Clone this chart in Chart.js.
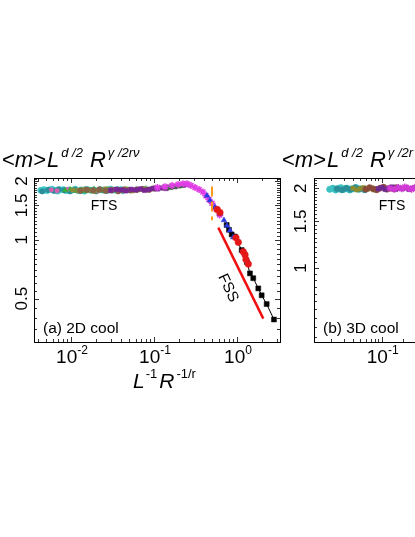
<!DOCTYPE html>
<html>
<head>
<meta charset="utf-8">
<script src="https://cdn.jsdelivr.net/npm/chart.js@4"></script>
<style>
  html, body { margin: 0; padding: 0; background: #fff; overflow: hidden; }
  #wrap { position: relative; width: 415px; height: 537px; overflow: hidden; }
  #wrap canvas { position: absolute; left: 0; top: 0; }
</style>
</head>
<body>
<div id="wrap">
  <canvas id="panelA" width="415" height="537"></canvas>
  <canvas id="panelB" width="620" height="537"></canvas>
</div>
<script>
// ---- panel (a) 2D cool : collapse data ----
const cyanX  = [0.0043,0.0047,0.0051,0.0055,0.0059,0.0064,0.0069,0.0075,0.0081,0.0088,0.0095,0.0103,0.0112,0.0122,0.0133,0.0145,0.0158,0.0172,0.0188,0.0205,0.0224,0.0245,0.027,0.03,0.034,0.04];
const cyanY  = [1.79,1.81,1.78,1.80,1.82,1.79,1.77,1.80,1.81,1.78,1.80,1.79,1.82,1.78,1.80,1.77,1.81,1.79,1.80,1.78,1.81,1.79,1.80,1.82,1.79,1.81];
const tealX  = [0.0045,0.0053,0.0062,0.0071,0.0083,0.0097,0.0113,0.013,0.015,0.0175,0.02,0.023,0.027,0.031,0.036,0.042,0.05];
const tealY  = [1.77,1.80,1.78,1.81,1.79,1.77,1.80,1.78,1.81,1.79,1.77,1.80,1.78,1.79,1.81,1.78,1.80];
const pinkX  = [0.0058,0.0068,0.009,0.012,0.016,0.021,0.03,0.045];
const pinkY  = [1.80,1.78,1.81,1.79,1.80,1.78,1.81,1.79];
const greenX = [0.0085,0.0098,0.0112,0.0128,0.0146,0.0166,0.019,0.0216,0.0246,0.028,0.032,0.0365,0.0415,0.047,0.054,0.061,0.07,0.08,0.091,0.104];
const greenY = [1.79,1.81,1.78,1.80,1.77,1.80,1.82,1.79,1.78,1.81,1.79,1.80,1.78,1.81,1.79,1.82,1.80,1.83,1.81,1.84];
const oliveX = [0.0105,0.0122,0.0142,0.0165,0.0192,0.0223,0.026,0.0302,0.035,0.041,0.047,0.055,0.064,0.074,0.086,0.1];
const oliveY = [1.80,1.78,1.81,1.79,1.77,1.80,1.82,1.78,1.80,1.79,1.81,1.78,1.80,1.82,1.81,1.83];
const brownX = [0.013,0.0155,0.0185,0.022,0.026,0.031,0.037,0.044,0.052,0.062,0.073,0.087,0.1];
const brownY = [1.78,1.80,1.79,1.81,1.78,1.80,1.77,1.81,1.79,1.80,1.82,1.80,1.83];
const purpleX = [0.03,0.035,0.04,0.046,0.053,0.06,0.068,0.077,0.087,0.098,0.11,0.124,0.14,0.158,0.178,0.2,0.225,0.25];
const purpleY = [1.79,1.81,1.80,1.78,1.81,1.80,1.82,1.79,1.81,1.83,1.82,1.84,1.83,1.86,1.87,1.89,1.90,1.92];
const dkGreenX = [0.14,0.16,0.18,0.2,0.215];
const dkGreenY = [1.85,1.86,1.88,1.89,1.90];
const magentaX = [0.11,0.136,0.165,0.195,0.224,0.25,0.279,0.312,0.349,0.389,0.423,0.46,0.5,0.559,0.62];
const magentaY = [1.85,1.87,1.895,1.915,1.936,1.936,1.895,1.853,1.81,1.754,1.68,1.606,1.537,1.438,1.34];
const blueX = [0.435,0.473,0.543,0.624,0.697,0.758,0.823,0.9];
const blueY = [1.68,1.588,1.47,1.36,1.26,1.18,1.116,1.03];
const redX = [0.579,0.624,0.972,1.037,1.191,1.25,1.284,1.368];
const redY = [1.427,1.377,1.025,0.97,0.869,0.838,0.793,0.751];
const blackX = [0.751,0.80,0.863,0.94,1.139,1.32,1.434,1.571,1.806,1.984,2.28,2.79];
const blackY = [1.19,1.125,1.065,1.04,0.886,0.768,0.673,0.636,0.564,0.520,0.469,0.391];
// guide lines
const fssX = [0.596, 2.075];
const fssY = [1.154, 0.395];
const crossX = [0.5, 0.5];
const crossY = [1.874, 1.26];

// ---- panel (b) 3D cool : only the left part is visible ----
const bCyanX = [0.019,0.021,0.023,0.025,0.027,0.03,0.033,0.036,0.04,0.044,0.048];
const bCyanY = [1.98,2.00,1.97,1.99,2.01,1.98,2.00,1.97,1.99,2.01,1.98];
const bTealX = [0.024,0.028,0.032,0.037,0.043,0.05,0.058];
const bTealY = [1.99,1.97,2.00,1.98,2.01,1.99,1.97];
const bOliveX = [0.04,0.045,0.05,0.056,0.063,0.07,0.078,0.087,0.097];
const bOliveY = [2.00,1.97,1.99,2.01,1.98,2.00,1.97,1.99,2.01];
const bBrownX = [0.06,0.068,0.076,0.085,0.095,0.106,0.118,0.13,0.145,0.16];
const bBrownY = [1.98,2.01,1.99,1.97,2.00,2.02,1.98,2.00,1.99,2.01];
const bPurpleX = [0.09,0.1,0.112,0.125,0.14,0.156,0.174,0.194,0.216,0.24,0.27,0.3];
const bPurpleY = [1.99,2.01,1.98,2.00,2.02,1.98,2.00,1.99,2.01,1.98,2.00,2.01];
const bMagentaX = [0.13,0.15,0.17,0.19,0.21,0.235,0.26,0.29];
const bMagentaY = [2.00,1.98,2.01,1.99,2.02,2.00,1.98,2.01];

// ---- ticks ----
const aXMajor = [0.01, 0.1, 1];
const aXExp = ['-2', '-1', '0'];
const aYMajor = [0.5, 1, 1.5, 2];
const aYLabels = ['0.5', '1', '1.5', '2'];
const bXMajor = [0.1, 1, 10];
const bXExp = ['-1', '0', '1'];
const bYMajor = [1, 1.5, 2];
const bYLabels = ['1', '1.5', '2'];

const FONT = '"Liberation Sans", Arial, sans-serif';

function pts(xs, ys) {
  return xs.map((x, i) => ({ x: x, y: ys[i] }));
}

function scatterSet(xs, ys, color, style, r, line) {
  const star = style === 'star' || style === 'crossRot';
  return {
    data: pts(xs, ys),
    pointStyle: style,
    pointRadius: r,
    pointBackgroundColor: color,
    pointBorderColor: color,
    pointBorderWidth: star ? 1.5 : 0.5,
    borderColor: color,
    borderWidth: line ? 1 : 0,
    showLine: !!line
  };
}

function guideSet(xs, ys, color, width, dash) {
  return {
    data: pts(xs, ys),
    showLine: true,
    pointRadius: 0,
    borderColor: color,
    borderWidth: width,
    borderDash: dash || []
  };
}

// text runs with superscripts
function drawRuns(ctx, x, y, runs, align) {
  let w = 0;
  runs.forEach(r => {
    ctx.font = (r.it ? 'italic ' : '') + r.size + 'px ' + FONT;
    r.w = ctx.measureText(r.t).width;
    w += r.w + (r.gap || 0);
  });
  let cx = align === 'center' ? x - w / 2 : x;
  ctx.textAlign = 'left';
  ctx.textBaseline = 'alphabetic';
  runs.forEach(r => {
    ctx.font = (r.it ? 'italic ' : '') + r.size + 'px ' + FONT;
    ctx.fillText(r.t, cx, y + (r.dy || 0));
    cx += r.w + (r.gap || 0);
  });
}

function titleRuns(full) {
  return [
    { t: '<', size: 22 },
    { t: 'm', size: 22, it: true },
    { t: '>', size: 22, gap: 1 },
    { t: 'L', size: 22, it: true, gap: 2 },
    { t: 'd /2', size: 13, it: true, dy: -10, gap: 7 },
    { t: 'R', size: 22, it: true, gap: 2 },
    { t: full ? 'γ /2rν' : 'γ /2r', size: 13, it: true, dy: -10 }
  ];
}

// frame, inward ticks on all four sides, labels and notes
function framePlugin(cfg) {
  return {
    id: 'frame',
    afterDraw(chart) {
      const ctx = chart.ctx;
      const a = chart.chartArea;
      const xs = chart.scales.x, ys = chart.scales.y;
      ctx.save();
      ctx.strokeStyle = '#000';
      ctx.lineWidth = 1;
      ctx.strokeRect(a.left + 0.5, a.top + 0.5, a.right - a.left, a.bottom - a.top);

      ctx.lineWidth = 0.8;
      ctx.beginPath();
      // x ticks: decades and 2..9 minors
      for (let d = -4; d <= 2; d++) {
        for (let m = 1; m <= 9; m++) {
          const v = m * Math.pow(10, d);
          if (v < xs.min || v > xs.max) continue;
          const px = Math.round(xs.getPixelForValue(v)) + 0.5;
          const len = m === 1 ? 5 : 3;
          ctx.moveTo(px, a.bottom); ctx.lineTo(px, a.bottom - len);
          ctx.moveTo(px, a.top); ctx.lineTo(px, a.top + len);
        }
      }
      // y ticks every 0.05
      for (let k = 6; k <= 44; k++) {
        const v = k * 0.05;
        if (v < ys.min || v > ys.max) continue;
        const py = Math.round(ys.getPixelForValue(v)) + 0.5;
        const len = k % 10 === 0 ? 5 : 3;
        ctx.moveTo(a.left, py); ctx.lineTo(a.left + len, py);
        ctx.moveTo(a.right, py); ctx.lineTo(a.right - len, py);
      }
      ctx.stroke();

      ctx.fillStyle = '#000';
      // x tick labels 10^n
      cfg.xMajor.forEach((v, i) => {
        if (v < xs.min || v > xs.max) return;
        drawRuns(ctx, xs.getPixelForValue(v) + 1, a.bottom + 21, [
          { t: '10', size: 19 },
          { t: cfg.xExp[i], size: 12, dy: -9 }
        ], 'center');
      });
      // y tick labels, rotated
      ctx.font = '17px ' + FONT;
      cfg.yMajor.forEach((v, i) => {
        ctx.save();
        ctx.translate(cfg.yLabelX, ys.getPixelForValue(v));
        ctx.rotate(-Math.PI / 2);
        ctx.textAlign = 'center';
        ctx.textBaseline = 'middle';
        ctx.fillText(cfg.yLabels[i], 0, 0);
        ctx.restore();
      });

      // axis title on top
      drawRuns(ctx, cfg.titleX, 167, titleRuns(cfg.fullTitle), 'left');

      // FTS and panel tag
      ctx.font = '14px ' + FONT;
      ctx.textAlign = 'center';
      ctx.textBaseline = 'alphabetic';
      ctx.fillText('FTS', cfg.ftsX, 210);
      ctx.font = '15.5px ' + FONT;
      ctx.textAlign = 'left';
      ctx.fillText(cfg.tag, a.left + 9, a.bottom - 9);

      if (cfg.fss) {
        ctx.save();
        ctx.translate(228, 288);
        ctx.rotate(65 * Math.PI / 180);
        ctx.font = '15px ' + FONT;
        ctx.textAlign = 'center';
        ctx.textBaseline = 'middle';
        ctx.fillText('FSS', 0, 0);
        ctx.restore();
      }
      if (cfg.xTitle) {
        drawRuns(ctx, 133, 388, [
          { t: 'L', size: 21, it: true, gap: 1 },
          { t: '-1', size: 13, dy: -10, gap: 2 },
          { t: 'R', size: 21, it: true, gap: 2 },
          { t: '-1/r', size: 13, dy: -10 }
        ], 'left');
      }
      ctx.restore();
    }
  };
}

function makePanel(id, datasets, xr, yr, pad, cfg) {
  return new Chart(document.getElementById(id).getContext('2d'), {
    type: 'scatter',
    data: { datasets: datasets },
    options: {
      responsive: false,
      animation: false,
      devicePixelRatio: 1,
      layout: { padding: pad },
      plugins: { legend: { display: false }, tooltip: { enabled: false } },
      scales: {
        x: { type: 'logarithmic', min: xr[0], max: xr[1], display: false },
        y: { type: 'logarithmic', min: yr[0], max: yr[1], display: false }
      }
    },
    plugins: [framePlugin(cfg)]
  });
}

// first dataset is drawn on top
makePanel('panelA', [
  guideSet(crossX, crossY, '#ff9a1a', 2, [10, 5]),
  guideSet(fssX, fssY, '#f01010', 2.5),
  scatterSet(redX, redY, '#e41818', 'circle', 3.3),
  scatterSet(blueX, blueY, '#2a3ae0', 'triangle', 3.2),
  scatterSet(blackX, blackY, '#000000', 'rect', 3.5, true),
  scatterSet(magentaX, magentaY, '#e23ee6', 'star', 3.5, true),
  scatterSet(dkGreenX, dkGreenY, '#1f7a1f', 'rect', 3),
  scatterSet(purpleX, purpleY, '#7a2596', 'rect', 3.2),
  scatterSet(brownX, brownY, '#866246', 'circle', 2.8),
  scatterSet(oliveX, oliveY, '#8c8c3a', 'rect', 3),
  scatterSet(greenX, greenY, '#35b035', 'triangle', 3),
  scatterSet(pinkX, pinkY, '#d860b0', 'circle', 2.2),
  scatterSet(tealX, tealY, '#2a8f9a', 'circle', 2.8),
  scatterSet(cyanX, cyanY, '#3cc8c8', 'circle', 3)
], [0.00358, 3.3], [0.34, 2.07], { left: 34, right: 135, top: 178, bottom: 195 }, {
  xMajor: aXMajor, xExp: aXExp, yMajor: aYMajor, yLabels: aYLabels,
  yLabelX: 22, titleX: 2, fullTitle: true, ftsX: 104, tag: '(a) 2D cool',
  fss: true, xTitle: true
});

makePanel('panelB', [
  scatterSet(bMagentaX, bMagentaY, '#d23ad6', 'star', 3.5),
  scatterSet(bPurpleX, bPurpleY, '#6e2a92', 'rect', 3.2),
  scatterSet(bBrownX, bBrownY, '#8a4a3a', 'circle', 3),
  scatterSet(bOliveX, bOliveY, '#8c8c30', 'rect', 3),
  scatterSet(bTealX, bTealY, '#2a8f9a', 'circle', 3),
  scatterSet(bCyanX, bCyanY, '#3cc0c0', 'circle', 3.2)
], [0.01149, 29.9], [0.526, 2.185], { left: 314, right: 60, top: 178, bottom: 195 }, {
  xMajor: bXMajor, xExp: bXExp, yMajor: bYMajor, yLabels: bYLabels,
  yLabelX: 301, titleX: 282, fullTitle: false, ftsX: 392, tag: '(b) 3D cool',
  fss: false, xTitle: false
});
</script>
</body>
</html>
